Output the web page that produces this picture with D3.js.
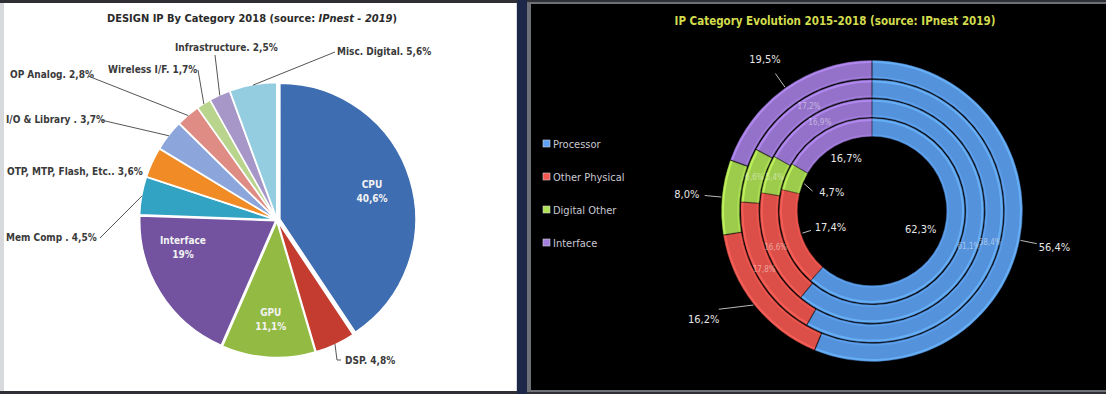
<!DOCTYPE html>
<html>
<head>
<meta charset="utf-8">
<script src="https://cdn.jsdelivr.net/npm/d3@7"></script>
<style>
  body { margin: 0; background: #2b2d33; }
  svg { display: block; }
</style>
</head>
<body>
<svg width="1106" height="394"></svg>
<script>
// ---- data: left pie (2018 design IP by category)
var pieNames = ["CPU", "DSP", "GPU", "Interface", "Mem Comp", "OTP, MTP, Flash, Etc.",
                "I/O & Library", "OP Analog", "Wireless I/F", "Infrastructure", "Misc. Digital"];
var pieValues = [40.6, 4.8, 11.1, 19, 4.5, 3.6, 3.7, 2.8, 1.7, 2.5, 5.6];
var pieLabels = ["CPU\n40,6%", "DSP. 4,8%", "GPU\n11,1%", "Interface\n19%", "Mem Comp . 4,5%",
                 "OTP, MTP, Flash, Etc.. 3,6%", "I/O & Library . 3,7%", "OP Analog. 2,8%",
                 "Wireless I/F. 1,7%", "Infrastructure. 2,5%", "Misc. Digital. 5,6%"];

// ---- data: right doughnut (2015 inner ... 2018 outer)
var years = ["2015", "2016", "2017", "2018"];
var categories = ["Processor", "Other Physical", "Digital Other", "Interface"];
var processor     = [62.3, 61.1, 58.4, 56.4];
var otherPhysical = [17.4, 16.6, 17.8, 16.2];
var digitalOther  = [4.7, 5.4, 6.6, 8.0];
var interfaceIP   = [16.7, 16.9, 17.2, 19.5];

var svg = d3.select("svg");
var fmt = function(v) { return v.toFixed(1).replace(".", ","); };

// panels
svg.append("rect").attr("x", 0).attr("y", 0).attr("width", 1106).attr("height", 394).attr("fill", "#2e3036");
svg.append("rect").attr("x", 0).attr("y", 3).attr("width", 517).attr("height", 388).attr("fill", "#d8d9dc");
svg.append("rect").attr("x", 4).attr("y", 3).attr("width", 512).attr("height", 388).attr("fill", "#ffffff");
svg.append("rect").attr("x", 517).attr("y", 0).attr("width", 10).attr("height", 394).attr("fill", "#1d2748");
svg.append("rect").attr("x", 527).attr("y", 2).attr("width", 579).attr("height", 390).attr("fill", "#6e7078");
svg.append("rect").attr("x", 531).attr("y", 4).attr("width", 575).attr("height", 386).attr("fill", "#000000");

// ================= left pie =================
var font = "'Liberation Sans Narrow', 'DejaVu Sans Condensed', 'Liberation Sans', sans-serif";
var pieColors = ["#3e6db1", "#c43c30", "#93ba43", "#7352a0", "#33a3c3", "#f08b26",
                 "#8ca6dc", "#df8c84", "#b9d48c", "#a697c8", "#94cde0"];
var cx = 277, cy = 220, R = 136;

var pie = d3.pie().sort(null).value(function(d) { return d; });
var arcs = pie(pieValues);
var arc = d3.arc().innerRadius(0).outerRadius(R);
var left = svg.append("g").attr("transform", "translate(" + cx + "," + cy + ")");

left.selectAll("path")
  .data(arcs)
  .enter().append("path")
    .attr("d", arc)
    .attr("transform", function(d) {
      var a = (d.startAngle + d.endAngle) / 2, k = d.index === 0 ? 3 : 1.5;
      return "translate(" + (Math.sin(a) * k) + "," + (-Math.cos(a) * k) + ")";
    })
    .attr("fill", function(d, i) { return pieColors[i]; })
    .attr("stroke", "#ffffff")
    .attr("stroke-width", 1.5);

// inside labels (CPU, GPU, Interface)
var inner = [0, 2, 3];
var labelArc = d3.arc().innerRadius(R * 0.73).outerRadius(R * 0.73);
inner.forEach(function(i) {
  var c = labelArc.centroid(arcs[i]);
  if (i === 3) c = [c[0] - 10, c[1] - 26];
  var lines = pieLabels[i].split("\n");
  var t = left.append("text")
    .attr("x", c[0]).attr("y", c[1] - 3)
    .attr("text-anchor", "middle")
    .attr("font-family", font).attr("font-size", 10).attr("font-weight", "bold")
    .attr("fill", "#f2f2f2");
  lines.forEach(function(l, j) {
    t.append("tspan").attr("x", c[0]).attr("dy", j === 0 ? 0 : 14).text(l);
  });
});

// outside labels: text spot and where its leader leaves the text
var outside = [
  { i: 1,  x: 345, y: 364, lx: [341, 360] },
  { i: 4,  x: 6,   y: 241, lx: [100, 238] },
  { i: 5,  x: 7,   y: 175, lx: null },
  { i: 6,  x: 6,   y: 123, lx: [101, 120] },
  { i: 7,  x: 10,  y: 78,  lx: [88, 76] },
  { i: 8,  x: 108, y: 73,  lx: [198, 70] },
  { i: 9,  x: 175, y: 51,  lx: [215, 55] },
  { i: 10, x: 337, y: 55,  lx: [335, 52] }
];
var edgeArc = d3.arc().innerRadius(R + 1).outerRadius(R + 1);
outside.forEach(function(o) {
  left.append("text")
    .attr("x", o.x - cx).attr("y", o.y - cy)
    .attr("font-family", font).attr("font-size", 10).attr("font-weight", "bold")
    .attr("fill", "#3a3a3a")
    .text(pieLabels[o.i]);
  if (!o.lx) return;
  var e = edgeArc.centroid(arcs[o.i]);
  var pts = [[o.lx[0] - cx, o.lx[1] - cy], [e[0], e[1]]];
  if (o.i === 1) pts = [[o.lx[0] - cx, o.lx[1] - cy], [e[0] + 2, o.lx[1] - cy], [e[0], e[1]]];
  left.append("path")
    .attr("d", d3.line()(pts))
    .attr("fill", "none").attr("stroke", "#555").attr("stroke-width", 1);
});

// title left
var t1 = svg.append("text")
  .attr("x", 252).attr("y", 22).attr("text-anchor", "middle")
  .attr("font-family", font).attr("font-size", 11).attr("font-weight", "bold").attr("fill", "#2a2a2a");
t1.append("tspan").text("DESIGN IP By Category 2018  (source: ");
t1.append("tspan").attr("font-style", "italic").text("IPnest - 2019");
t1.append("tspan").text(")");

// ================= right doughnut =================
var ringColors = ["#5592dc", "#dc4f48", "#9dcc4c", "#9472c9"];
var dx = 872, dy = 211, r0 = 74, ringW = 19.3;
var right = svg.append("g").attr("transform", "translate(" + dx + "," + dy + ")");

var series = years.map(function(y, k) {
  return [processor[k], otherPhysical[k], digitalOther[k], interfaceIP[k]];
});
var ringPie = d3.pie().sort(null).padAngle(0.006);

series.forEach(function(vals, k) {
  var ri = r0 + k * ringW + 0.8, ro = r0 + (k + 1) * ringW - 0.8;
  var ra = ringPie(vals);
  var a = d3.arc().innerRadius(ri).outerRadius(ro);
  var g = right.append("g");
  g.selectAll("path.ring")
    .data(ra)
    .enter().append("path")
      .attr("class", "ring")
      .attr("d", a)
      .attr("fill", function(d, i) { return ringColors[i]; })
      .attr("stroke", function(d, i) { return d3.color(ringColors[i]).darker(0.4); })
      .attr("stroke-width", 0.5);
  // bevel highlight
  var hi = d3.arc().innerRadius(ro - 2.5).outerRadius(ro - 0.5);
  g.selectAll("path.hi")
    .data(ra)
    .enter().append("path")
      .attr("class", "hi")
      .attr("d", hi)
      .attr("fill", function(d, i) { return d3.color(ringColors[i]).brighter(0.7); })
      .attr("opacity", 0.7);
  var lo = d3.arc().innerRadius(ri + 0.5).outerRadius(ri + 2);
  g.selectAll("path.lo")
    .data(ra)
    .enter().append("path")
      .attr("class", "lo")
      .attr("d", lo)
      .attr("fill", function(d, i) { return d3.color(ringColors[i]).brighter(0.5); })
      .attr("opacity", 0.5);

  var mid = function(d) { return (d.startAngle + d.endAngle) / 2; };
  if (k === 0) {
    ra.forEach(function(d, i) {
      var m = mid(d);
      var tx = Math.sin(m) * 52, ty = -Math.cos(m) * 52;
      if (i === 1 || i === 2) {
        right.append("line")
          .attr("x1", Math.sin(m) * (r0 - 1)).attr("y1", -Math.cos(m) * (r0 - 1))
          .attr("x2", Math.sin(m) * 64).attr("y2", -Math.cos(m) * 64 + (i === 2 ? 4 : 0))
          .attr("stroke", "#bbb").attr("stroke-width", 1);
        tx += 8;
      }
      if (i === 3) ty -= 8;
      right.append("text")
        .attr("x", tx).attr("y", ty + 4).attr("text-anchor", "middle")
        .attr("font-family", font).attr("font-size", 11).attr("fill", "#e6e6e6")
        .text(fmt(vals[i]) + "%");
    });
  } else if (k === series.length - 1) {
    ra.forEach(function(d, i) {
      var m = mid(d) + (i === 1 ? 0.1 : 0);
      var lr = i === 1 ? 200 : 186;
      var tx = Math.sin(m) * lr, ty = -Math.cos(m) * lr;
      right.append("line")
        .attr("x1", Math.sin(mid(d)) * (ro + 1)).attr("y1", -Math.cos(mid(d)) * (ro + 1))
        .attr("x2", Math.sin(m) * (lr - 18)).attr("y2", -Math.cos(m) * (lr - 18))
        .attr("stroke", "#bbb").attr("stroke-width", 1);
      right.append("text")
        .attr("x", tx).attr("y", ty + 4).attr("text-anchor", "middle")
        .attr("font-family", font).attr("font-size", 11).attr("fill", "#e6e6e6")
        .text(fmt(vals[i]) + "%");
    });
  } else {
    var ca = d3.arc().innerRadius(ri).outerRadius(ro);
    ra.forEach(function(d, i) {
      var c = ca.centroid(d);
      right.append("text")
        .attr("x", c[0]).attr("y", c[1] + 3).attr("text-anchor", "middle")
        .attr("font-family", font).attr("font-size", 8).attr("fill", "#ffffff")
        .attr("opacity", 0.45)
        .text(fmt(vals[i]) + "%");
    });
  }
});

// legend
var legend = svg.append("g").attr("transform", "translate(543,144)");
categories.forEach(function(c, i) {
  var g = legend.append("g").attr("transform", "translate(0," + (i * 33) + ")");
  g.append("rect").attr("x", 0).attr("y", -4).attr("width", 7).attr("height", 7)
    .attr("fill", d3.color(ringColors[i]).brighter(0.3)).attr("stroke", "#d0d0d0").attr("stroke-width", 0.6);
  g.append("text").attr("x", 10).attr("y", 4)
    .attr("font-family", font).attr("font-size", 11).attr("fill", "#c9c9d2")
    .text(c);
});

// title right
svg.append("text")
  .attr("x", 835).attr("y", 25).attr("text-anchor", "middle")
  .attr("font-family", font).attr("font-size", 11.5).attr("font-weight", "bold").attr("fill", "#d3dc4e")
  .text("IP Category Evolution 2015-2018 (source: IPnest 2019)");
</script>
</body>
</html>
